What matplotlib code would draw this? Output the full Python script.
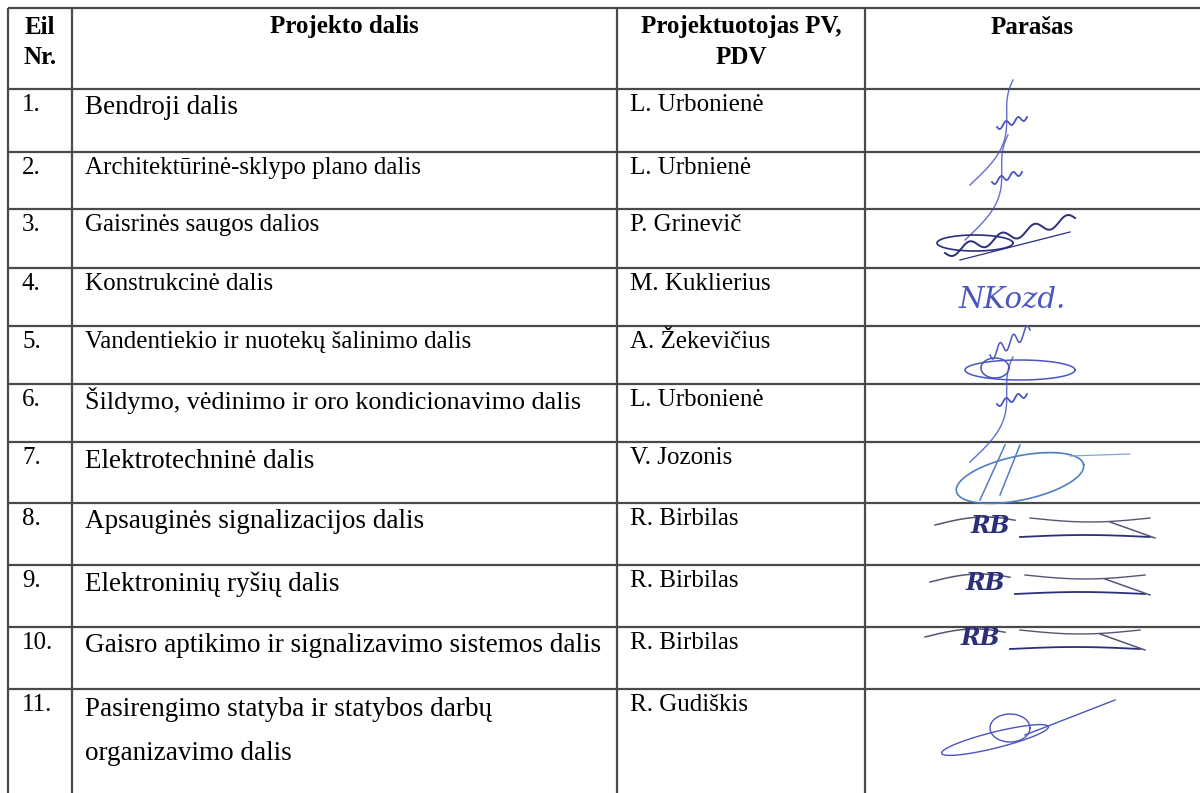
import numpy as np
import matplotlib.pyplot as plt

plt.rcParams['font.family'] = ['Liberation Serif', 'DejaVu Serif']

headers = [['Eil', 'Nr.'], ['Projekto dalis'], ['Projektuotojas PV,', 'PDV'], ['Parašas']]
numbers = ['1.', '2.', '3.', '4.', '5.', '6.', '7.', '8.', '9.', '10.', '11.']
parts = [
    'Bendroji dalis',
    'Architektūrinė-sklypo plano dalis',
    'Gaisrinės saugos dalios',
    'Konstrukcinė dalis',
    'Vandentiekio ir nuotekų šalinimo dalis',
    'Šildymo, vėdinimo ir oro kondicionavimo dalis',
    'Elektrotechninė dalis',
    'Apsauginės signalizacijos dalis',
    'Elektroninių ryšių dalis',
    'Gaisro aptikimo ir signalizavimo sistemos dalis',
    'Pasirengimo statyba ir statybos darbų\norganizavimo dalis',
]
designers = ['L. Urbonienė', 'L. Urbnienė', 'P. Grinevič', 'M. Kuklierius',
             'A. Žekevičius', 'L. Urbonienė', 'V. Jozonis', 'R. Birbilas',
             'R. Birbilas', 'R. Birbilas', 'R. Gudiškis']
signatures = ['slash', 'slash', 'flat', 'text', 'loops', 'slash', 'big',
              'rb', 'rb', 'rb', 'diag']

# layout (pixels)
col_edges = [8, 72, 617, 865, 1200]
row_edges = [8, 89, 152, 209, 268, 326, 384, 442, 503, 565, 627, 689, 793]
part_sizes = [19.5, 18, 18, 18, 18, 18.8, 19.5, 19.5, 19.5, 19.5, 19.5]
line_col = '#4a4a4a'

fig = plt.figure(figsize=(12, 7.93), dpi=100)
ax = fig.add_axes([0, 0, 1, 1])
ax.set_xlim(0, 1200)
ax.set_ylim(793, 0)
ax.axis('off')

ax.hlines(row_edges[:-1], col_edges[0], col_edges[-1], color=line_col, lw=1.6)
ax.vlines(col_edges[:-1], row_edges[0], row_edges[-1], color=line_col, lw=1.6)

# header
for i, h in enumerate(headers):
    cx = (col_edges[i] + col_edges[i + 1]) / 2
    for j, line in enumerate(h):
        ax.text(cx, 27 + 30 * j, line, ha='center', va='center', fontsize=18,
                fontweight='bold')


def signature(kind, cx, cy):
    t = np.linspace(0, 1, 200)
    navy = '#2b2f7a'
    blue = '#4a55c0'
    if kind == 'slash':
        x = cx - 35 + 55 * t + 12 * np.sin(np.pi * t * 1.5)
        y = cy + 50 - 105 * t
        ax.plot(x, y, color=blue, lw=1.0, alpha=0.85)
        x2 = cx - 8 + 30 * t
        y2 = cy - 8 - 10 * t + 3 * np.sin(5 * np.pi * t)
        ax.plot(x2, y2, color=blue, lw=1.3)
    elif kind == 'flat':
        x = cx - 60 + 130 * t
        y = cy + 18 - 35 * t + 5 * np.sin(8 * np.pi * t)
        ax.plot(x, y, color=navy, lw=1.4)
        ax.plot(cx - 30 + 38 * np.cos(2 * np.pi * t),
                cy + 8 + 8 * np.sin(2 * np.pi * t), color=navy, lw=1.2)
        ax.plot(cx - 45 + 110 * t, cy + 25 - 28 * t, color=navy, lw=0.9)
    elif kind == 'text':
        ax.text(cx, cy, 'NKozd.', color=blue, fontsize=21, style='italic',
                ha='center', va='center', family=['DejaVu Serif'])
    elif kind == 'loops':
        ax.plot(cx + 55 * np.cos(2 * np.pi * t),
                cy + 20 + 10 * np.sin(2 * np.pi * t), color=blue, lw=1.1)
        ax.plot(cx - 25 + 14 * np.cos(2 * np.pi * t),
                cy + 18 + 10 * np.sin(2 * np.pi * t), color=blue, lw=1.1)
        x = cx - 30 + 40 * t
        y = cy + 5 - 25 * t + 6 * np.sin(6 * np.pi * t)
        ax.plot(x, y, color=blue, lw=1.1)
    elif kind == 'big':
        ang = np.deg2rad(12)
        ex = 65 * np.cos(2 * np.pi * t)
        ey = 22 * np.sin(2 * np.pi * t)
        ax.plot(cx + 10 + ex * np.cos(ang) + ey * np.sin(ang),
                cy + 8 - ex * np.sin(ang) + ey * np.cos(ang),
                color='#4f7fc0', lw=1.2)
        ax.plot(cx - 30 + 25 * t, cy + 30 - 55 * t, color='#4f7fc0', lw=1.1)
        ax.plot(cx - 10 + 20 * t, cy + 25 - 50 * t, color='#4f7fc0', lw=1.1)
        ax.plot(cx + 60 + 60 * t, cy - 14 - 2 * t, color='#7fa7d8', lw=0.9)
    elif kind == 'rb':
        ax.text(cx - 50, cy - 2, 'RB', color=navy, fontsize=17, style='italic',
                fontweight='bold', ha='center', va='center', family=['DejaVu Serif'])
        ax.plot(cx - 105 + 80 * t, cy - 3 - 8 * np.sin(np.pi * t * 0.8),
                color='#555577', lw=1.1)
        ax.plot(cx - 20 + 130 * t, cy + 9 - 2 * np.sin(np.pi * t),
                color=navy, lw=1.3)
        ax.plot(cx - 10 + 120 * t, cy - 10 + 4 * np.sin(np.pi * t),
                color='#555577', lw=1.0)
        ax.plot(cx + 70 + 45 * t, cy - 6 + 16 * t, color='#555577', lw=1.1)
    elif kind == 'diag':
        ang = np.deg2rad(14)
        ex = 55 * np.cos(2 * np.pi * t)
        ey = 8 * np.sin(2 * np.pi * t)
        ax.plot(cx - 20 + ex * np.cos(ang) + ey * np.sin(ang),
                cy + 10 - ex * np.sin(ang) + ey * np.cos(ang), color=blue, lw=1.0)
        ax.plot(cx - 5 + 20 * np.cos(2 * np.pi * t), cy - 2 + 14 * np.sin(2 * np.pi * t),
                color=blue, lw=1.0)
        ax.plot(cx + 10 + 90 * t, cy + 5 - 35 * t, color=blue, lw=1.0)


sig_x = [1005, 1000, 1005, 1012, 1020, 1005, 1010, 1040, 1035, 1030, 1015]
sig_y = [135, 190, 235, 300, 350, 412, 470, 528, 585, 640, 730]

for i in range(len(numbers)):
    top = row_edges[i + 1]
    big = part_sizes[i] > 19
    ax.text(22, top + 16, numbers[i], ha='left', va='center', fontsize=18)
    if '\n' in parts[i]:
        first, second = parts[i].split('\n')
        ax.text(85, top + 20, first, ha='left', va='center', fontsize=part_sizes[i])
        ax.text(85, top + 65, second, ha='left', va='center', fontsize=part_sizes[i])
    else:
        ax.text(85, top + (19 if big else 16), parts[i], ha='left', va='center',
                fontsize=part_sizes[i])
    ax.text(630, top + 16, designers[i], ha='left', va='center', fontsize=18)
    signature(signatures[i], sig_x[i], sig_y[i])

fig.savefig('out.png', dpi=100)
